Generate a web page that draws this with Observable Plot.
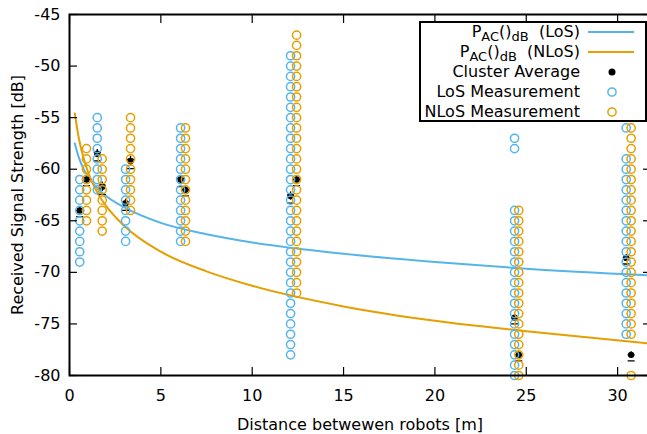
<!DOCTYPE html>
<html><head><meta charset="utf-8">
<script src="https://cdn.jsdelivr.net/npm/d3@7"></script>
<script src="https://cdn.jsdelivr.net/npm/@observablehq/plot@0.6"></script>
<style>
body{margin:0;background:#fff;overflow:hidden}
#wrap{position:relative;width:647px;height:434px;overflow:hidden;background:#fff}
#legend{position:absolute;left:419px;top:21px;width:228px;height:101px;border:2px solid #000;background:#fff;font-family:"DejaVu Sans";font-size:16px;color:#000;box-sizing:border-box}
.lab{position:absolute;right:65px;height:16px;line-height:16px;white-space:pre}
.lab sub{font-size:13px;position:relative;top:4px;vertical-align:baseline;line-height:13px}
#legsym{position:absolute;left:0;top:0}
</style></head>
<body>
<div id="wrap"></div>
<script>
const yTicks = [-80, -75, -70, -65, -60, -55, -50, -45];
const xTicks = [0, 5, 10, 15, 20, 25, 30];

// cluster distances [m]
const losDistance  = [0.56, 1.52, 3.07, 6.08, 12.1, 24.36, 30.47];
const nlosDistance = [0.93, 1.79, 3.34, 6.35, 12.43, 24.59, 30.74];

// individual measurements [dB] per cluster
const losMeasurements = [
  [-61, -62, -63, -64, -65, -66, -67, -68, -69],
  [-55, -56, -57, -58, -59, -60, -61, -62],
  [-60, -61, -62, -63, -64, -65, -66, -67],
  [-56, -57, -58, -59, -60, -61, -62, -63, -64, -65, -66, -67],
  [-49, -50, -51, -52, -53, -54, -55, -56, -57, -58, -59, -60, -61, -62, -63, -64, -65, -66, -67, -68, -69, -70, -71, -72, -73, -74, -75, -76, -77, -78],
  [-57, -58, -64, -65, -66, -67, -68, -69, -70, -71, -72, -73, -74, -75, -76, -77, -78, -79, -80],
  [-56, -59, -60, -61, -62, -63, -64, -65, -66, -67, -68, -69, -70, -71, -72, -73, -74, -75, -76]
];
const nlosMeasurements = [
  [-58, -59, -60, -61, -62, -63, -64, -65],
  [-59, -60, -61, -62, -63, -64, -65, -66],
  [-55, -56, -57, -58, -59, -60, -61, -62, -63, -64],
  [-56, -57, -58, -59, -60, -61, -62, -63, -64, -65, -66, -67],
  [-47, -48, -49, -50, -51, -52, -53, -54, -55, -56, -57, -58, -59, -60, -61, -62, -63, -64, -65, -66, -67, -68, -69, -70, -71, -72],
  [-64, -65, -66, -67, -68, -69, -70, -71, -72, -73, -74, -75, -76, -77, -78, -79, -80],
  [-56, -57, -58, -59, -60, -61, -62, -63, -64, -65, -66, -67, -68, -69, -70, -71, -72, -73, -74, -75, -76, -80]
];

// cluster averages and their error
const losAverage  = [-64, -58.5, -63.3, -61, -62.6, -74.4, -68.6];
const nlosAverage = [-61, -61.7, -59.2, -62, -61, -78, -78];
const losAverageErr  = [0.3, 0.4, 0.4, 0.4, 0.4, 0.3, 0.3];
const nlosAverageErr = [0.3, 0.45, 0.45, 0.3, 0.3, 0.3, 0.3];

// path-loss model curves
const curveDistance = [0.29, 0.5, 0.75, 1, 1.5, 2, 3, 5, 7.5, 10, 15, 20, 25, 31.8];
const losModel  = [-57.5, -58.8, -59.9, -60.7, -61.8, -62.6, -63.7, -65.2, -66.3, -67.1, -68.2, -69.0, -69.65, -70.3];
const nlosModel = [-54.6, -56.9, -58.8, -60.2, -62.2, -63.55, -65.5, -68.0, -69.9, -71.3, -73.3, -74.7, -75.7, -76.9];

const blue = "#56b4e9", orange = "#e69f00";

const losPts = losDistance.flatMap((d, i) => losMeasurements[i].map(v => ({d, v})));
const nlosPts = nlosDistance.flatMap((d, i) => nlosMeasurements[i].map(v => ({d, v})));
const avgPts = [
  ...losDistance.map((d, i) => ({d, v: losAverage[i], e: losAverageErr[i]})),
  ...nlosDistance.map((d, i) => ({d, v: nlosAverage[i], e: nlosAverageErr[i]}))
];
const losCurve = curveDistance.map((d, i) => ({d, v: losModel[i]}));
const nlosCurve = curveDistance.map((d, i) => ({d, v: nlosModel[i]}));

const capShape = {draw(ctx, l) { ctx.moveTo(-l / 2, 0); ctx.lineTo(l / 2, 0); }};
const fmt = d => String(d);

const chart = Plot.plot({
  width: 647, height: 434,
  marginLeft: 69, marginRight: -3, marginTop: 14, marginBottom: 59,
  style: {fontFamily: "DejaVu Sans", fontSize: "16px", color: "#000", background: "#fff", overflow: "hidden"},
  x: {domain: [0, 31.8]},
  y: {domain: [-80, -45]},
  marks: [
    Plot.line(losCurve, {x: "d", y: "v", stroke: blue, strokeWidth: 2, curve: "monotone-x"}),
    Plot.line(nlosCurve, {x: "d", y: "v", stroke: orange, strokeWidth: 2, curve: "monotone-x"}),
    Plot.ruleX(avgPts, {x: "d", y1: d => d.v - d.e, y2: d => d.v + d.e, stroke: "#000", strokeWidth: 1.3}),
    Plot.vector(avgPts, {x: "d", y: d => d.v - d.e, length: 6, shape: capShape, stroke: "#000", strokeWidth: 1.3}),
    Plot.vector(avgPts, {x: "d", y: d => d.v + d.e, length: 6, shape: capShape, stroke: "#000", strokeWidth: 1.3}),
    Plot.dot(avgPts, {x: "d", y: "v", r: 3.2, fill: "#000", stroke: "none"}),
    Plot.dot(losPts, {x: "d", y: "v", r: 4.1, stroke: blue, strokeWidth: 1.5, fill: "none"}),
    Plot.dot(nlosPts, {x: "d", y: "v", r: 4.1, stroke: orange, strokeWidth: 1.5, fill: "none"}),
    Plot.axisY({ticks: yTicks, tickSize: 0, tickPadding: 9, tickFormat: fmt, label: null, fontSize: 16}),
    Plot.axisY({ticks: yTicks, tickSize: -8, tickFormat: () => "", label: null, strokeWidth: 1.2}),
    Plot.axisY({ticks: yTicks, anchor: "right", tickSize: -8, tickFormat: () => "", label: null, strokeWidth: 1.2}),
    Plot.axisX({ticks: xTicks, tickSize: 0, tickPadding: 14, tickFormat: fmt, label: null, fontSize: 16}),
    Plot.axisX({ticks: xTicks, tickSize: -8, tickFormat: () => "", label: null, strokeWidth: 1.2}),
    Plot.axisX({ticks: xTicks, anchor: "top", tickSize: -8, tickFormat: () => "", label: null, strokeWidth: 1.2}),
    Plot.text(["Received Signal Strength [dB]"], {frameAnchor: "left", dx: -52, rotate: -90, textAnchor: "middle", lineAnchor: "middle", fontSize: 16}),
    Plot.text(["Distance betwewen robots [m]"], {frameAnchor: "bottom", dy: 49, textAnchor: "middle", lineAnchor: "middle", fontSize: 16}),
    Plot.frame({stroke: "#000", strokeWidth: 2})
  ]
});
const wrap = document.getElementById("wrap");
wrap.appendChild(chart);

// legend
const legendRows = [
  {html: "P<sub>AC</sub>()<sub>dB</sub>  (LoS)", kind: "line", color: blue},
  {html: "P<sub>AC</sub>()<sub>dB</sub>  (NLoS)", kind: "line", color: orange},
  {html: "Cluster Average", kind: "dot", color: "#000"},
  {html: "LoS Measurement", kind: "circle", color: blue},
  {html: "NLoS Measurement", kind: "circle", color: orange}
];
const leg = document.createElement("div");
leg.id = "legend";
wrap.appendChild(leg);
const ns = "http://www.w3.org/2000/svg";
const sv = document.createElementNS(ns, "svg");
sv.setAttribute("id", "legsym");
sv.setAttribute("width", 224); sv.setAttribute("height", 97);
leg.appendChild(sv);
legendRows.forEach((r, i) => {
  const cy = 9 + i * 20;
  const t = document.createElement("div");
  t.className = "lab";
  t.style.top = (cy - 8) + "px";
  t.innerHTML = r.html;
  leg.appendChild(t);
  if (r.kind === "line") {
    const l = document.createElementNS(ns, "line");
    l.setAttribute("x1", 167); l.setAttribute("x2", 213);
    l.setAttribute("y1", cy); l.setAttribute("y2", cy);
    l.setAttribute("stroke", r.color); l.setAttribute("stroke-width", 2);
    sv.appendChild(l);
  } else {
    const c = document.createElementNS(ns, "circle");
    c.setAttribute("cx", 191); c.setAttribute("cy", cy);
    c.setAttribute("r", r.kind === "dot" ? 3.5 : 4.1);
    if (r.kind === "dot") { c.setAttribute("fill", "#000"); }
    else { c.setAttribute("fill", "none"); c.setAttribute("stroke", r.color); c.setAttribute("stroke-width", 1.5); }
    sv.appendChild(c);
  }
});
</script>
</body></html>
